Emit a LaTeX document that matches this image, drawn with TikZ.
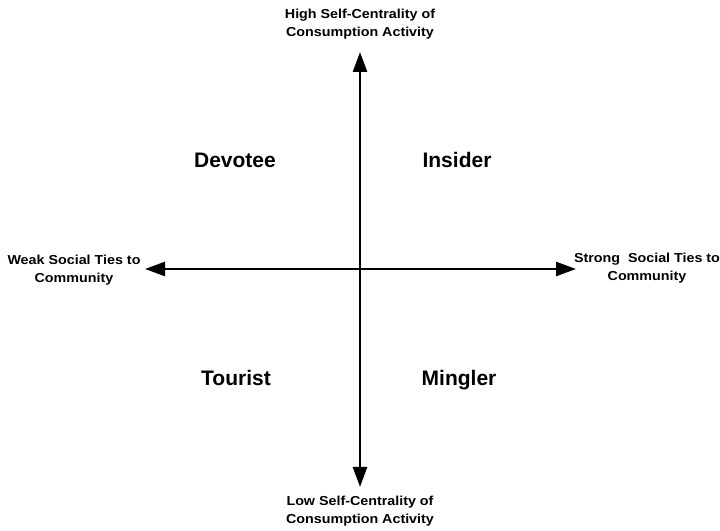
\documentclass[tikz,border=0pt]{standalone}
\usepackage{fontspec}
\setmainfont{Liberation Sans}
\newfontfamily\labfont[FakeStretch=1.1]{Liberation Sans}
\usetikzlibrary{arrows.meta}
\begin{document}
\begin{tikzpicture}[x=1pt,y=1pt,
  axis/.style={line width=2.7pt, {Triangle[length=20pt,width=14pt]}-{Triangle[length=20pt,width=14pt]}},
  lab/.style={align=center, inner sep=0pt, font=\labfont\bfseries\fontsize{13}{18}\selectfont},
  quad/.style={inner sep=0pt, anchor=base, font=\bfseries\fontsize{21}{24}\selectfont}]
\useasboundingbox (0,0) rectangle (720,530);
\coordinate (top) at (360,478);
\coordinate (bot) at (360,43);
\coordinate (lft) at (145,261);
\coordinate (rgt) at (576,261);
\draw[axis] (lft) -- (rgt);
\draw[axis] (bot) -- (top);
\node[lab] (hi) at (360,506) {High Self-Centrality of\\Consumption Activity};
\node[lab] (lo) at (360,19) {Low Self-Centrality of\\Consumption Activity};
\node[lab] (weak) at (74,260) {Weak Social Ties to\\Community};
\node[lab] (strong) at (647,262) {Strong\ \ Social Ties to\\Community};
\node[quad] (dev) at (235,362) {Devotee};
\node[quad] (ins) at (457,362) {Insider};
\node[quad] (tou) at (236,144) {Tourist};
\node[quad] (min) at (459,144) {Mingler};
\end{tikzpicture}
\end{document}
